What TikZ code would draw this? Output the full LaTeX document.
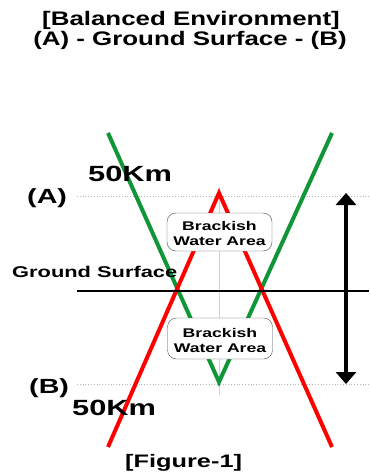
\documentclass[tikz,border=0pt]{standalone}
\usepackage{fontspec}
\setmainfont{Liberation Sans}
\newfontfamily\widefont[FakeStretch=1.4]{Liberation Sans}
\newfontfamily\titlefont[FakeStretch=1.32]{Liberation Sans}
\usepackage{xcolor}
\usepackage{tikz}
\usetikzlibrary{arrows.meta,positioning}
\definecolor{vgreen}{RGB}{16,150,56}
\definecolor{vred}{RGB}{255,0,0}

\begin{document}
\begin{tikzpicture}[
  x=1pt, y=-1pt,
  lbl/.style={anchor=base west, inner sep=0pt, font=\widefont\bfseries\fontsize{#1}{#1}\selectfont},
  ttl/.style={anchor=base, inner sep=0pt, font=\titlefont\bfseries\fontsize{19.6}{21}\selectfont},
  wedge/.style={line width=4pt, miter limit=20},
  guide/.style={gray!60, dotted, line width=0.8pt},
  area/.style={draw=gray!60!black, fill=white, rounded corners=9pt, minimum width=105pt, inner sep=0pt},
  areatext/.style={align=center, inner sep=0pt, font=\widefont\bfseries\fontsize{12.6}{15}\selectfont},
  arr/.style={{Triangle[width=20pt,length=12pt]}-{Triangle[width=20pt,length=12pt]}, line width=4pt}
]
  \useasboundingbox (0,0) rectangle (369,473);
  % title
  \node[ttl] (t1) at (191,26) {[Balanced Environment]};
  \node[ttl] (t2) at (190,46) {(A) - Ground Surface - (B)};
  % guides
  \coordinate (gA) at (77,196);  \coordinate (gAe) at (369,196);
  \coordinate (gB) at (77,384);  \coordinate (gBe) at (369,384);
  \coordinate (ct) at (219,187); \coordinate (cb) at (219,395);
  \draw[guide] (gA) -- (gAe);
  \draw[guide] (gB) -- (gBe);
  \draw[gray!35, line width=0.8pt] (ct) -- (cb);
  % wedges
  \coordinate (gl) at (108,133); \coordinate (gv) at (219,382); \coordinate (gr) at (332,133);
  \coordinate (rl) at (108,447); \coordinate (rv) at (219,193); \coordinate (rr) at (332,447);
  \draw[wedge, vgreen] (gl) -- (gv) -- (gr);
  \draw[wedge, vred] (rl) -- (rv) -- (rr);
  % ground surface
  \coordinate (g0) at (77,291); \coordinate (g1) at (369,291);
  \draw[line width=2.5pt] (g0) -- (g1);
  % depth arrow
  \coordinate (at) at (346,193); \coordinate (ab) at (346,384);
  \draw[arr] (at) -- (ab);
  % labels
  \node[lbl=22] (kmA) at (88,181) {50Km};
  \node[lbl=20.5] (A) at (27,203) {(A)};
  \node[lbl=15.6] (gs) at (12,277) {Ground Surface};
  \node[lbl=20.5] (B) at (29,393) {(B)};
  \node[lbl=22] (kmB) at (72,415) {50Km};
  \node[lbl=18.1] (fig) at (125,467) {[Figure-1]};
  % brackish water areas
  \node[area, minimum height=38pt] (bw1) at (219.5,232) {};
  \node[areatext, below=-11pt of bw1.center] (bt1) {Brackish\\Water Area};
  \node[area, minimum height=41pt] (bw2) at (220,338.5) {};
  \node[areatext, below=-10pt of bw2.center] (bt2) {Brackish\\Water Area};
\end{tikzpicture}
\end{document}
